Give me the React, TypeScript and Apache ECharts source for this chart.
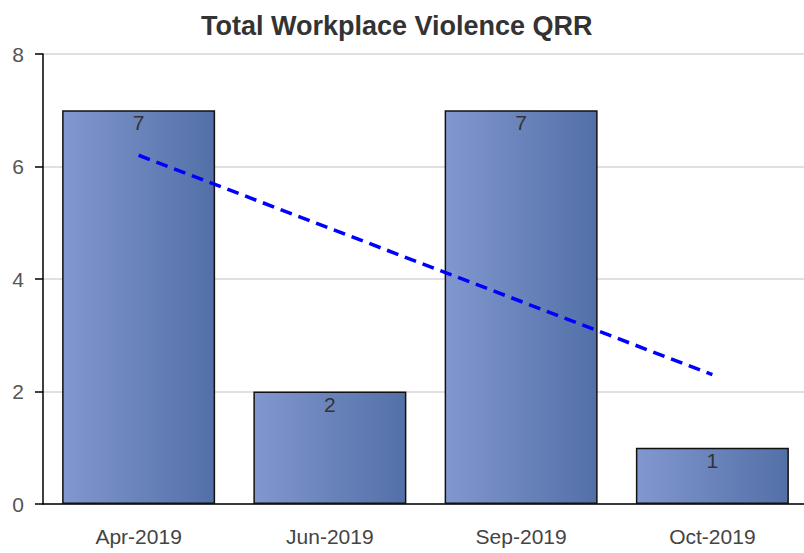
import React, { useEffect, useRef } from "react";
import * as echarts from "echarts";

const categories = ["Apr-2019", "Jun-2019", "Sep-2019", "Oct-2019"];
const counts = [7, 2, 7, 1];
const trend = [6.2, 4.9, 3.6, 2.3];
const yTicks = [0, 2, 4, 6, 8];

export default function App() {
  const ref = useRef<HTMLDivElement>(null);
  useEffect(() => {
    document.body.style.margin = "0";
    const chart = echarts.init(ref.current!, null, { renderer: "svg" });
    const font = "'Liberation Sans', Arial, sans-serif";
    chart.setOption({
      animation: false,
      textStyle: { fontFamily: font },
      title: {
        text: "Total Workplace Violence QRR",
        left: 196,
        top: 7,
        textStyle: { fontFamily: font, fontSize: 27, fontWeight: "bold", color: "#333" },
      },
      grid: { left: 43, top: 54, width: 765, height: 450, containLabel: false },
      xAxis: {
        type: "category",
        data: categories,
        axisLine: { lineStyle: { color: "#000", width: 1.5 } },
        axisTick: { alignWithLabel: true, length: 12, lineStyle: { color: "#000", width: 1.5 } },
        axisLabel: { color: "#444", fontSize: 21, margin: 22, fontFamily: font },
      },
      yAxis: {
        type: "value",
        min: yTicks[0],
        max: yTicks[yTicks.length - 1],
        interval: 2,
        axisLine: { show: true, lineStyle: { color: "#000", width: 1.5 } },
        axisTick: { show: true, length: 8, lineStyle: { color: "#000", width: 1.5 } },
        axisLabel: { color: "#555", fontSize: 21, margin: 19, fontFamily: font },
        splitLine: { lineStyle: { color: "#d6d6d6", width: 1.5 } },
      },
      series: [
        {
          type: "bar",
          data: counts,
          barWidth: "80%",
          itemStyle: {
            color: new echarts.graphic.LinearGradient(0, 0, 1, 0, [
              { offset: 0, color: "rgb(130,151,207)" },
              { offset: 1, color: "rgb(82,112,167)" },
            ]),
            borderColor: "#111",
            borderWidth: 1.5,
          },
          label: {
            show: true,
            position: "insideTop",
            distance: 2,
            color: "#333",
            fontSize: 21,
            fontFamily: font,
          },
          z: 2,
        },
        {
          type: "line",
          data: trend,
          showSymbol: false,
          symbol: "none",
          lineStyle: { color: "#0000ff", width: 3.5, type: [12, 7] },
          z: 3,
        },
      ],
    });
    return () => chart.dispose();
  }, []);
  return (
    <div style={{ width: 804, height: 553, overflow: "hidden" }}>
      <div ref={ref} style={{ width: 812, height: 553 }} />
    </div>
  );
}
